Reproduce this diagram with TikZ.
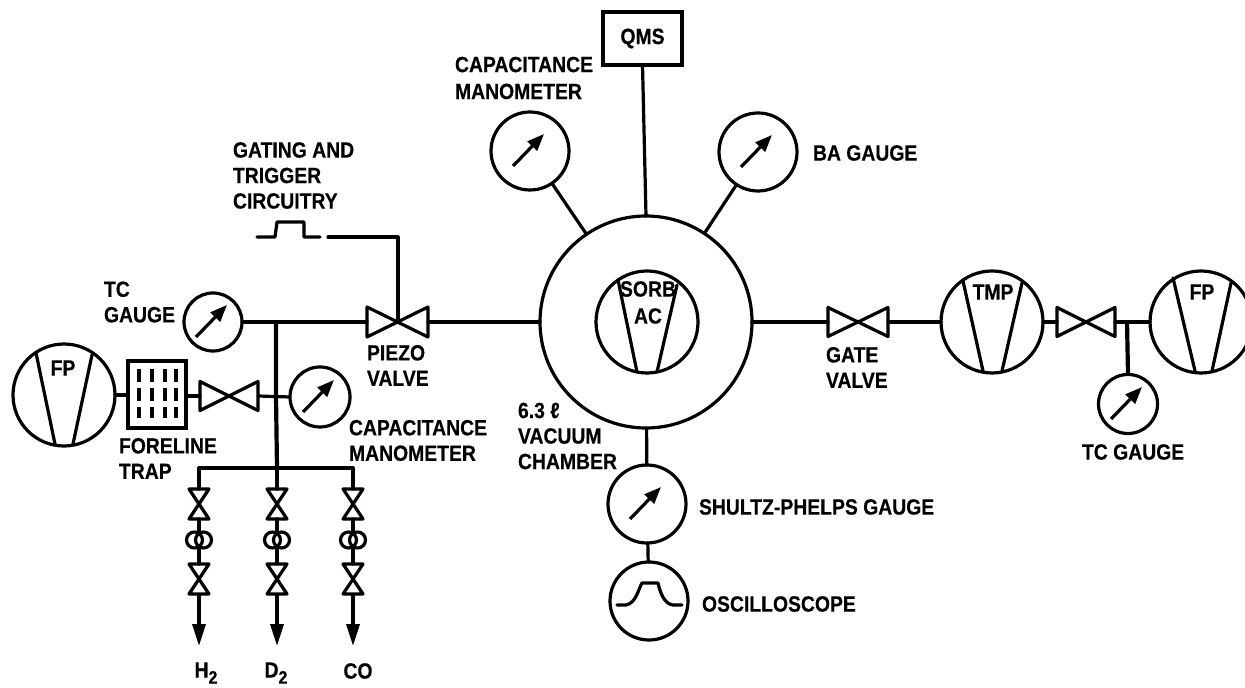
\documentclass[tikz,border=0pt]{standalone}
\usepackage{fontspec}
\setmainfont[FakeStretch=0.88,FakeBold=0.4]{Liberation Sans}
\usetikzlibrary{arrows.meta}
\newcommand{\labelfont}{\fontsize{11}{12.75}\selectfont\bfseries}
\tikzset{
  pipe/.style={line width=1.6pt,line cap=round,line join=round},
  thickpipe/.style={line width=2.1pt},
  circ/.style={circle,draw,line width=1.6pt,inner sep=0pt,outer sep=0pt},
  bowtie/.style={draw=none,inner sep=0pt,outer sep=0pt},
  lab/.style={font=\labelfont,inner sep=0pt,outer sep=0pt,anchor=west,align=left},
  clab/.style={font=\labelfont,inner sep=0pt,outer sep=0pt,anchor=center},
  needle/.style={line width=1.6pt,-{Triangle[length=8.5pt,width=6.5pt]}},
  gasarrow/.style={line width=1.8pt,-{Triangle[length=11pt,width=6.5pt]}},
  coil/.style={circle,draw,line width=1.6pt,inner sep=0pt,outer sep=0pt,minimum width=7.5pt,minimum height=8pt},
}
\newcommand{\gauge}[4]{%
  \node[circ,minimum size=#4pt] (#1) at (#2,#3) {};
  \draw[needle,shift={(#1.center)}] (-17,15) -- (14,-17);
}
\newcommand{\hvalve}[5]{%
  \node[bowtie,minimum width=#4*0.5pt,minimum height=#5*0.5pt] (#1) at (#2,#3) {};
  \draw[pipe] (#1.north west) -- (#1.south east) -- (#1.north east) -- (#1.south west) -- cycle;
}
\newcommand{\vvalve}[3]{%
  \node[bowtie,minimum width=10pt,minimum height=15pt] (#1) at (#2,#3) {};
  \draw[pipe] (#1.north west) -- (#1.north east) -- (#1.south west) -- (#1.south east) -- cycle;
}
\begin{document}
\begin{tikzpicture}[x=0.5pt,y=-0.5pt]
\useasboundingbox (0,0) rectangle (1245,688);

% chamber and sorb pump
\node[circ,minimum size=106pt] (chamber) at (646,322) {};
\node[circ,minimum size=51pt] (sorb) at (647,322) {};
\draw[pipe] (618,280) -- (637,372);
\draw[pipe] (677,285) -- (657,372);
\node[clab] (sorbt) at (648,289) {SORB};
\node[clab] (sorbac) at (648,316) {AC};

% top instruments
\node[draw,line width=1.7pt,minimum width=39.5pt,minimum height=26.5pt,inner sep=0pt,outer sep=0pt,font=\labelfont] (qms) at (642.5,38.5) {QMS};
\gauge{capa}{530}{151}{39}
\gauge{ba}{758}{152}{39}
\draw[pipe] (qms.south) -- (chamber.north);
\draw[pipe] (capa) -- (chamber);
\draw[pipe] (ba) -- (chamber);
\node[lab] (capat) at (455,78) {CAPACITANCE\\[0.7pt]MANOMETER};
\node[lab] (bat) at (813,153) {BA GAUGE};

% bottom instruments
\gauge{shultz}{647}{504}{39}
\node[circ,minimum size=39pt] (osc) at (649,601) {};
\draw[pipe] (chamber) -- (shultz);
\draw[pipe] (shultz) -- (osc);
\draw[pipe] (617,605) -- (626,605) .. controls (636,603) and (638,590) .. (642,583) -- (658,583) .. controls (660,592) and (664,604) .. (673,605) -- (682,605);
\node[lab] (shultzt) at (699,507) {SHULTZ-PHELPS GAUGE};
\node[lab] (osct) at (702,604) {OSCILLOSCOPE};
\node[lab] (volt) at (518,436) {6.3 ℓ\\VACUUM\\CHAMBER};

% right side
\hvalve{gate}{858}{322}{60}{29}
\node[circ,minimum size=51pt] (tmp) at (992,322) {};
\draw[pipe] (963,281) -- (983,371);
\draw[pipe] (1022,283) -- (1002,371);
\node[clab] (tmpt) at (993,292) {TMP};
\hvalve{vb}{1086}{322}{58}{29}
\node[circ,minimum size=51pt] (fpr) at (1201,322) {};
\draw[pipe] (1173,278) -- (1195,371);
\draw[pipe] (1231,283) -- (1212,371);
\node[clab] (fprt) at (1202,292) {FP};
\gauge{tcr}{1128}{404}{29.5}
\coordinate (jr) at (1127,322);
\draw[pipe] (chamber.east) -- (gate.west);
\draw[pipe] (gate.east) -- (tmp.west);
\draw[pipe] (tmp.east) -- (vb.west);
\draw[pipe] (vb.east) -- (fpr.west);
\draw[thickpipe] (jr) -- (tcr.north);
\node[lab] (gatet) at (826,367.5) {GATE\\VALVE};
\node[lab] (tcrt) at (1082,452) {TC GAUGE};

% piezo valve and gating
\hvalve{piezo}{397.5}{322}{61}{30}
\coordinate (pz) at (398,321);
\coordinate (ga) at (398,237);
\coordinate (gb) at (328,237);
\draw[pipe] (piezo.east) -- (chamber.west);
\draw[pipe] (gb) -- (ga) -- (pz);
\coordinate (pa) at (257,237);
\coordinate (pb) at (320,237);
\draw[pipe] (pa) -- (275,237) -- (277,222) -- (304,222) -- (304,237) -- (pb);
\node[lab] (gatingt) at (233,175.5) {GATING AND\\TRIGGER\\CIRCUITRY};
\node[lab] (piezot) at (367,365.5) {PIEZO\\VALVE};

% left manifold
\gauge{tcl}{213}{322}{29}
\coordinate (jt) at (276,321);
\coordinate (jm) at (276,397);
\coordinate (jb) at (277,468);
\draw[pipe] (tcl.east) -- (piezo.west);
\draw[thickpipe] (jt) -- (jm) -- (jb);
\node[lab] (tclt) at (104,302) {TC\\GAUGE};

% foreline pump, trap and valve
\node[circ,minimum size=51pt] (fpl) at (64,395) {};
\draw[pipe] (36,353) -- (55,444);
\draw[pipe] (92,355) -- (73,444);
\node[clab] (fplt) at (63,368) {FP};
\node[draw,line width=1.7pt,minimum width=29pt,minimum height=33.5pt,inner sep=0pt,outer sep=0pt] (trap) at (157,394.5) {};
\foreach \px in {139,152,165,176}{
  \foreach \py/\qy in {369/382,388/401,407/418}{
    \draw[line width=1.8pt] (\px,\py) -- (\px,\qy);
  }
}
\hvalve{fv}{229}{396}{58}{29}
\gauge{capb}{320}{397}{30}
\draw[pipe] (fpl.east) -- (fpl.east -| trap.west);
\draw[pipe] (trap.east |- fv.west) -- (fv.west);
\draw[pipe] (fv.east) -- (capb.west);
\node[lab] (trapt) at (119,458.5) {FORELINE\\TRAP};
\node[lab] (capbt) at (349,440.5) {CAPACITANCE\\MANOMETER};

% gas lines
\coordinate (bl) at (199,468);
\coordinate (br) at (353,468);
\draw[pipe] (bl) -- (br);
\foreach \n/\X/\Y/\lbl in {a/199/504/h,b/277/504/d,c/353/504/c}{
  \vvalve{\n1}{\X}{\Y}
  \vvalve{\n2}{\X}{579}
  \node[coil] (\n cl) at (\X-4.5,540) {};
  \node[coil] (\n cr) at (\X+4.5,540) {};
  \coordinate (\n top) at (\X,468);
  \coordinate (\n tip) at (\X,646);
  \draw[pipe] (\n top) -- (\n1.north);
  \draw[pipe] (\n1.south) -- (\n cl.north -| \n1.south);
  \draw[pipe] (\n cr.south -| \n2.north) -- (\n2.north);
  \draw[gasarrow] (\n2.south) -- (\n tip);
}
\node[clab] (h2) at (206,673) {H\raisebox{-3pt}{\fontsize{9}{9}\selectfont 2}};
\node[clab] (d2) at (276,673) {D\raisebox{-3pt}{\fontsize{9}{9}\selectfont 2}};
\node[clab] (co) at (358,671) {CO};
\end{tikzpicture}
\end{document}
